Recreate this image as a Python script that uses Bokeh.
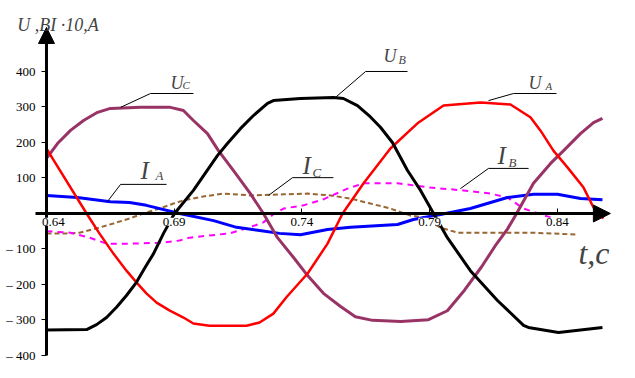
from bokeh.plotting import figure
from bokeh.models import LinearAxis, FixedTicker, Range1d, Label, Arrow, NormalHead
from bokeh.embed import file_html
from bokeh.resources import INLINE

# ---- data (t in seconds, values in V or A*10) ----
t_ua = [0.6400, 0.6557, 0.6607, 0.6662, 0.6713, 0.6752, 0.6791, 0.6831, 0.6881, 0.6936,
        0.6975, 0.7038, 0.7183, 0.7234, 0.7288, 0.7339, 0.7422, 0.7500, 0.7559, 0.7641,
        0.7746, 0.7852, 0.7954, 0.8099, 0.8216, 0.8294, 0.8333, 0.8384, 0.8439, 0.8502,
        0.8541, 0.8580]
ua = [183, 0, -56, -113, -161, -194, -225, -251, -273, -293,
      -310, -316, -316, -307, -282, -236, -169, -85, 0, 85,
      183, 254, 304, 313, 307, 271, 234, 177, 130, 73,
      17, -14]

t_ub = [0.6400, 0.6557, 0.6596, 0.6635, 0.6674, 0.6713, 0.6752, 0.6791, 0.6819, 0.6858,
        0.6901, 0.6975, 0.7069, 0.7108, 0.7159, 0.7210, 0.7265, 0.7288, 0.7394, 0.7523,
        0.7562, 0.7617, 0.7668, 0.7707, 0.7754, 0.7813, 0.7864, 0.7915, 0.7969, 0.8059,
        0.8165, 0.8267, 0.8286, 0.8404, 0.8576]
ub = [-328, -327, -313, -293, -264, -231, -194, -146, -113, -56,
      0, 65, 163, 197, 239, 276, 310, 318, 324, 327,
      324, 304, 272, 243, 200, 121, 65, 0, -68, -161,
      -245, -315, -321, -335, -321]

t_uc = [0.6400, 0.6443, 0.6494, 0.6545, 0.6600, 0.6650, 0.6768, 0.6885, 0.6936, 0.6975,
        0.7030, 0.7073, 0.7132, 0.7198, 0.7249, 0.7304, 0.7367, 0.7422, 0.7484, 0.7551,
        0.7609, 0.7676, 0.7786, 0.7895, 0.7969, 0.8036, 0.8103, 0.8161, 0.8204, 0.8240,
        0.8306, 0.8373, 0.8424, 0.8490, 0.8541, 0.8576]
uc = [155, 197, 234, 262, 285, 296, 299, 299, 290, 262,
      225, 177, 121, 56, 0, -68, -124, -175, -225, -262,
      -291, -301, -304, -299, -274, -216, -150, -86, -44, 0,
      85, 141, 177, 225, 256, 268]

t_ia = [0.6400, 0.6521, 0.6650, 0.6725, 0.6791, 0.6921, 0.7054, 0.7144, 0.7234, 0.7312,
        0.7394, 0.7500, 0.7590, 0.7774, 0.7836, 0.7942, 0.8059, 0.8204, 0.8306, 0.8400,
        0.8490, 0.8576]
ia = [51, 45, 33, 31, 23, 0, -20, -39, -48, -56,
      -60, -45, -39, -31, -17, -3, 14, 45, 54, 54,
      42, 39]

t_ib = [0.6400, 0.6494, 0.6568, 0.6635, 0.6725, 0.6858, 0.6921, 0.6960, 0.7116, 0.7183,
        0.7249, 0.7288, 0.7328, 0.7406, 0.7484, 0.7578, 0.7641, 0.7774, 0.7903, 0.8032,
        0.8138, 0.8204, 0.8267, 0.8373]
ib = [-50, -54, -68, -85, -85, -82, -76, -68, -56, -42,
      -25, -2, 14, 23, 40, 70, 85, 85, 73, 65,
      56, 45, 14, -11]

t_ic = [0.6400, 0.6478, 0.6529, 0.6596, 0.6662, 0.6725, 0.6791, 0.6842, 0.6897, 0.6936,
        0.7014, 0.7093, 0.7198, 0.7328, 0.7422, 0.7512, 0.7590, 0.7668, 0.7746, 0.7825,
        0.7876, 0.7942, 0.8009, 0.8294, 0.8470]
ic = [-56, -56, -54, -42, -28, -14, 3, 14, 28, 37,
      48, 56, 51, 54, 56, 51, 42, 28, 14, -6,
      -11, -40, -54, -54, -59]

x_ticks = [0.64, 0.69, 0.74, 0.79, 0.84]
x_tick_labels = ["0.64", "0.69", "0.74", "0.79", "0.84"]
y_ticks = [-400, -300, -200, -100, 100, 200, 300, 400]
y_tick_labels = ["\u2013 400", "\u2013 300", "\u2013 200", "\u2013 100", "100", "200", "300", "400"]

SERIF = "Liberation Serif"

p = figure(width=635, height=378, output_backend="svg", toolbar_location=None,
           x_range=Range1d(0.6220, 0.87053), y_range=Range1d(-464.8, 600),
           x_axis_location=None, y_axis_location=None, min_border=0)
p.outline_line_color = None
p.background_fill_color = "white"
p.border_fill_color = "white"
p.grid.visible = False

# curves
p.line(t_ic, ic, line_color="#996633", line_width=2, line_dash="5 3")
p.line(t_ib, ib, line_color="#FF00FF", line_width=2, line_dash="6 5")
p.line(t_ia, ia, line_color="#0000FF", line_width=3, line_join="round")
p.line(t_uc, uc, line_color="#993366", line_width=3, line_join="round")
p.line(t_ua, ua, line_color="#FF0000", line_width=2.5, line_join="round")
p.line(t_ub, ub, line_color="#000000", line_width=3, line_join="round")

# axes through zero
xax = LinearAxis(fixed_location=0, ticker=FixedTicker(ticks=x_ticks), bounds=(0.6357, 0.856),
                 axis_line_width=3, axis_line_color="black",
                 major_tick_in=5, major_tick_out=0, major_tick_line_width=1,
                 minor_tick_line_color=None, major_label_text_color=None,
                 major_label_text_font=SERIF, major_label_text_font_size="13px")
p.add_layout(xax, "below")
yax = LinearAxis(fixed_location=0.64, ticker=FixedTicker(ticks=y_ticks), bounds=(-400, 400),
                 axis_line_width=3, axis_line_color="black",
                 major_tick_in=0, major_tick_out=5, major_tick_line_width=1,
                 minor_tick_line_color=None,
                 major_label_overrides={v: s for v, s in zip(y_ticks, y_tick_labels)},
                 major_label_text_font=SERIF, major_label_text_font_size="13px",
                 major_label_text_color="black", major_label_standoff=6)
p.add_layout(yax, "left")

# x tick labels with white boxes
for v, s in zip(x_ticks, x_tick_labels):
    dx = 0.0027 if v == 0.64 else 0.0
    p.add_layout(Label(x=v + dx, y=-12, text=s, text_align="center", text_baseline="top",
                       text_font=SERIF, text_font_size="13px", text_color="black",
                       background_fill_color="white", background_fill_alpha=1.0))

# arrows
p.add_layout(Arrow(end=NormalHead(size=16, fill_color="black", line_color="black"),
                   x_start=0.64, y_start=380, x_end=0.64, y_end=524,
                   line_width=3, line_color="black"))
p.add_layout(Arrow(end=NormalHead(size=17, fill_color="black", line_color="black"),
                   x_start=0.85, y_start=0, x_end=0.8607, y_end=0,
                   line_width=3, line_color="black"))

# axis titles
p.add_layout(Label(x=0.6286, y=530, text="U ,BI \u00b710,A", text_font=SERIF,
                   text_font_style="italic", text_font_size="18px", text_baseline="alphabetic"))
p.add_layout(Label(x=0.8482, y=-110, text="t,c", text_font=SERIF,
                   text_font_style="italic", text_font_size="32px", text_baseline="alphabetic"))

# curve names: (main, sub, x, y, sub_x, sub_y, main size, sub size)
names = [
    ("U", "C", 0.6885, 369, 0.6932, 363, "18px", "11px"),
    ("U", "B", 0.7719, 445, 0.7778, 431, "18px", "12px"),
    ("U", "A", 0.8287, 369, 0.8353, 358, "18px", "11px"),
    ("I", "A", 0.6768, 121, 0.6827, 107, "25px", "13px"),
    ("I", "C", 0.7402, 135, 0.7441, 115, "25px", "13px"),
    ("I", "B", 0.8165, 163, 0.8208, 144, "25px", "13px"),
]
for m, s, x, y, sx, sy, ms, ss in names:
    p.add_layout(Label(x=x, y=y, text=m, text_font=SERIF, text_font_style="italic",
                       text_font_size=ms, text_baseline="alphabetic"))
    p.add_layout(Label(x=sx, y=sy, text=s, text_font=SERIF, text_font_style="italic",
                       text_font_size=ss, text_baseline="alphabetic"))

# leader lines
leaders = [
    ([0.6690, 0.6807, 0.6975], [299, 338, 338]),
    ([0.7531, 0.7649, 0.7813], [327, 400, 400]),
    ([0.8130, 0.8228, 0.8396], [318, 338, 338]),
    ([0.6639, 0.6690, 0.6870], [34, 82, 82]),
    ([0.7269, 0.7363, 0.7523], [51, 101, 101]),
    ([0.8020, 0.8130, 0.8287], [70, 127, 127]),
]
for lx, ly in leaders:
    p.line(lx, ly, line_color="black", line_width=1)

open("out.html", "w").write(file_html(p, INLINE))
